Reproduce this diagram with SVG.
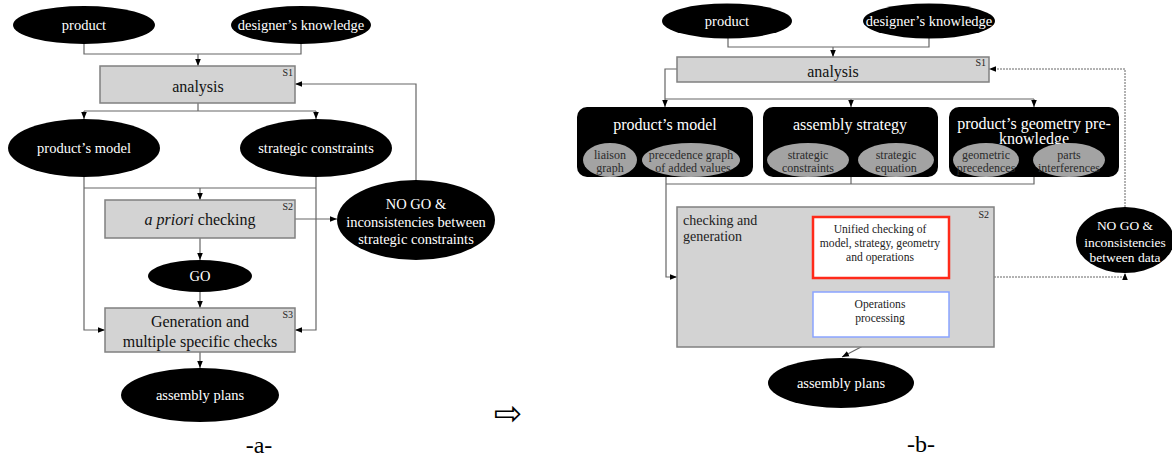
<svg xmlns="http://www.w3.org/2000/svg" width="1172" height="459" viewBox="0 0 1172 459" font-family="'Liberation Serif', 'Times New Roman', serif">
<defs>
<marker id="ah" viewBox="0 0 10 10" refX="10" refY="5" markerWidth="7" markerHeight="7" markerUnits="userSpaceOnUse" orient="auto"><path d="M0,1 L10,5 L0,9 z" fill="#000"/></marker>
<style>
text{font-family:"Liberation Serif","Times New Roman",serif;}
.el{fill:#000;}
.wt{fill:#fff;font-size:14.5px;text-anchor:middle;}
.box{fill:#d3d3d3;stroke:#808080;stroke-width:1.5;}
.bt{fill:#111;font-size:16px;text-anchor:middle;}
.sl{fill:#222;font-size:10px;text-anchor:end;}
.ln{fill:none;stroke:#666;stroke-width:1.2;}
.ar{fill:none;stroke:#666;stroke-width:1.2;marker-end:url(#ah);}
.dta{fill:none;stroke:#666;stroke-width:1;stroke-dasharray:2,1;marker-end:url(#ah);}
.rb{fill:#000;}
.rt{fill:#fff;font-size:16px;text-anchor:middle;}
.ge{fill:#a3a3a3;}
.gt{fill:#2a2a2a;font-size:12px;text-anchor:middle;}
.it{fill:#222;font-size:11.6px;text-anchor:middle;}
.cap{fill:#000;font-size:24px;text-anchor:middle;}
.sym{fill:#000;font-size:34px;text-anchor:middle;font-family:"DejaVu Sans",sans-serif;}
</style>
</defs>

<!-- ===== Diagram (a) ===== -->
<g id="connectors-a">
<polyline class="ln" points="84,44 84,54 301,54 301,44"/>
<line class="ar" x1="198" y1="54" x2="198" y2="66"/>
<line class="ln" x1="198" y1="103" x2="198" y2="111"/>
<line class="ln" x1="84" y1="111" x2="316" y2="111"/>
<line class="ar" x1="84" y1="111" x2="84" y2="119"/>
<line class="ar" x1="316" y1="111" x2="316" y2="119"/>
<polyline class="ar" points="84,177 84,330 105,330"/>
<polyline class="ar" points="316,177 316,330 295,330"/>
<line class="ln" x1="84" y1="188" x2="316" y2="188"/>
<line class="ar" x1="200" y1="188" x2="200" y2="200"/>
<line class="ar" x1="295" y1="219" x2="337" y2="219"/>
<polyline class="ar" points="416,180 416,84 295,84"/>
<line class="ar" x1="200" y1="238" x2="200" y2="260"/>
<line class="ar" x1="200" y1="292" x2="200" y2="308"/>
<line class="ar" x1="200" y1="352" x2="200" y2="368"/>
</g>

<g id="a-product"><ellipse class="el" cx="84" cy="25" rx="71" ry="19"/><text class="wt" x="84" y="30">product</text></g>
<g id="a-designer"><ellipse class="el" cx="301" cy="25" rx="70" ry="19"/><text class="wt" x="301" y="30">designer’s knowledge</text></g>
<g id="a-analysis"><rect class="box" x="100" y="66" width="195" height="37"/><text class="bt" x="198" y="92">analysis</text><text class="sl" x="293" y="76">S1</text></g>
<g id="a-model"><ellipse class="el" cx="84" cy="148" rx="76" ry="29"/><text class="wt" x="84" y="153">product’s model</text></g>
<g id="a-constraints"><ellipse class="el" cx="316" cy="148" rx="76" ry="29"/><text class="wt" x="316" y="153">strategic constraints</text></g>
<g id="a-apriori"><rect class="box" x="105" y="200" width="190" height="38"/><text class="bt" x="200" y="225"><tspan font-style="italic">a priori</tspan>  checking</text><text class="sl" x="293" y="210">S2</text></g>
<g id="a-nogo"><ellipse class="el" cx="416" cy="220" rx="79" ry="40"/><text class="wt" x="416" y="209">NO GO &amp;</text><text class="wt" x="416" y="227">inconsistencies between</text><text class="wt" x="416" y="244">strategic constraints</text></g>
<g id="a-go"><ellipse class="el" cx="200" cy="276" rx="52" ry="16"/><text class="wt" x="200" y="281">GO</text></g>
<g id="a-generation"><rect class="box" x="105" y="308" width="190" height="44"/><text class="bt" x="200" y="327">Generation and</text><text class="bt" x="200" y="347">multiple specific checks</text><text class="sl" x="293" y="318">S3</text></g>
<g id="a-plans"><ellipse class="el" cx="200" cy="395" rx="79" ry="27"/><text class="wt" x="200" y="400">assembly plans</text></g>
<text class="cap" x="259" y="453">-a-</text>

<text class="sym" x="508" y="425">⇨</text>

<!-- ===== Diagram (b) ===== -->
<g id="connectors-b">
<polyline class="ln" points="728,38 728,47 929,47 929,38"/>
<line class="ar" x1="833" y1="47" x2="833" y2="57"/>
<polyline class="ar" points="677,69 665,69 665,107"/>
<line class="ln" x1="665" y1="99" x2="1034" y2="99"/>
<line class="ar" x1="851" y1="99" x2="851" y2="107"/>
<line class="ar" x1="1034" y1="99" x2="1034" y2="107"/>
<polyline class="ln" points="851,177 851,184"/>
<polyline class="ln" points="1034,177 1034,184 666,184"/>
<polyline class="ar" points="666,177 666,277 677,277"/>
<polyline class="ar" points="949,247 964,247 964,315 949,315"/>
<polyline class="ar" points="813,315 798,315 798,247 813,247"/>
<line class="ar" x1="880" y1="337" x2="842" y2="357"/>
<polyline class="dta" points="994,277 1125,277 1125,273"/>
<polyline class="dta" points="1125,207 1125,69 989,69"/>
</g>

<g id="b-product"><ellipse class="el" cx="727" cy="21" rx="65" ry="17.5"/><text class="wt" x="727" y="26">product</text></g>
<g id="b-designer"><ellipse class="el" cx="929" cy="21" rx="66" ry="17.5"/><text class="wt" x="929" y="26">designer’s knowledge</text></g>
<g id="b-analysis"><rect class="box" x="677" y="57" width="312" height="25"/><text class="bt" x="833" y="77">analysis</text><text class="sl" x="986" y="66">S1</text></g>

<g id="b-model"><rect class="rb" x="577" y="107" width="176" height="70" rx="10"/><text class="rt" x="665" y="130">product’s model</text>
<ellipse class="ge" cx="610" cy="160" rx="27" ry="17"/><text class="gt" x="610" y="159">liaison</text><text class="gt" x="610" y="172">graph</text>
<ellipse class="ge" cx="691" cy="160" rx="49" ry="17"/><text class="gt" x="691" y="159">precedence graph</text><text class="gt" x="693" y="172">of added values</text></g>

<g id="b-strategy"><rect class="rb" x="763" y="107" width="175" height="70" rx="10"/><text class="rt" x="850" y="130">assembly strategy</text>
<ellipse class="ge" cx="808" cy="160" rx="41" ry="17"/><text class="gt" x="808" y="159">strategic</text><text class="gt" x="808" y="172">constraints</text>
<ellipse class="ge" cx="896" cy="160" rx="38" ry="17"/><text class="gt" x="896" y="159">strategic</text><text class="gt" x="896" y="172">equation</text></g>

<g id="b-geometry"><rect class="rb" x="949" y="107" width="170" height="70" rx="10"/><text class="rt" x="1034" y="129">product’s geometry pre-</text><text class="rt" x="1034" y="144">knowledge</text>
<ellipse class="ge" cx="986" cy="160" rx="33" ry="17"/><text class="gt" x="986" y="159">geometric</text><text class="gt" x="986" y="172">precedences</text>
<ellipse class="ge" cx="1069" cy="160" rx="36" ry="17"/><text class="gt" x="1069" y="159">parts</text><text class="gt" x="1069" y="172">interferences</text></g>

<g id="b-checking"><rect class="box" x="677" y="207" width="317" height="140"/><text x="683" y="225" fill="#222" font-size="14">checking and</text><text x="683" y="241" fill="#222" font-size="14">generation</text><text class="sl" x="989" y="218">S2</text></g>
<g id="b-unified"><rect x="813" y="217" width="136" height="61" fill="#fff" stroke="#ff2a1a" stroke-width="2.5"/><text class="it" x="880" y="233">Unified checking of</text><text class="it" x="880" y="247">model, strategy, geometry</text><text class="it" x="880" y="261">and operations</text></g>
<g id="b-operations"><rect x="813" y="292" width="136" height="45" fill="#fff" stroke="#8aa4ff" stroke-width="1.5"/><text class="it" x="880" y="308">Operations</text><text class="it" x="880" y="322">processing</text></g>
<g id="b-plans"><ellipse class="el" cx="841" cy="383" rx="73" ry="25"/><text class="wt" x="841" y="388">assembly plans</text></g>
<g id="b-nogo"><ellipse class="el" cx="1125" cy="240" rx="49" ry="33"/><text class="wt" x="1125" y="230" style="font-size:13.5px">NO GO &amp;</text><text class="wt" x="1125" y="247" style="font-size:13.5px">inconsistencies</text><text class="wt" x="1125" y="262" style="font-size:13.5px">between data</text></g>
<text class="cap" x="921" y="452">-b-</text>
</svg>
